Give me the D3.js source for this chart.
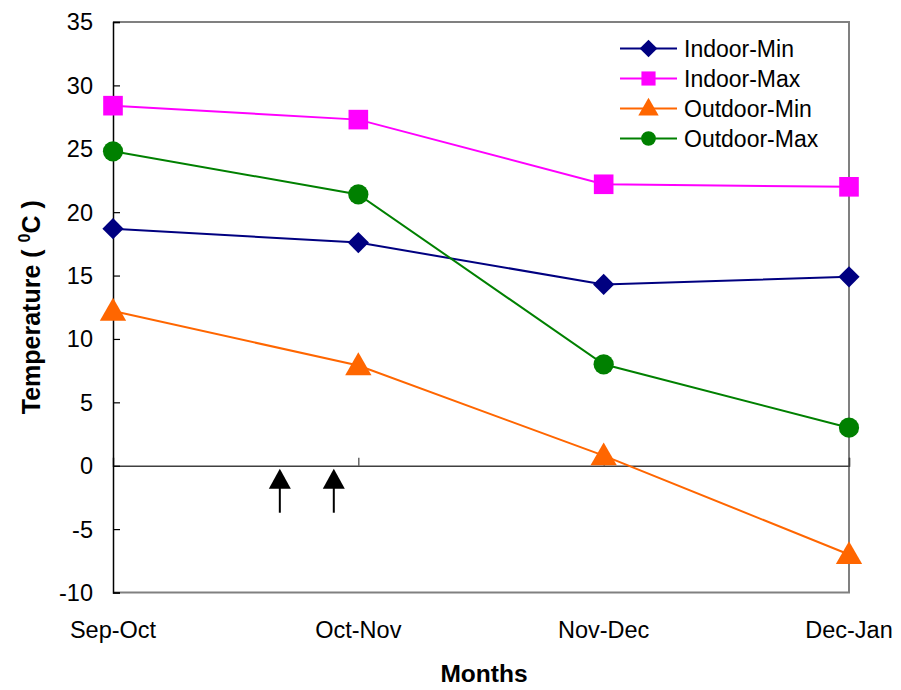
<!DOCTYPE html>
<html>
<head>
<meta charset="utf-8">
<script src="https://cdn.jsdelivr.net/npm/d3@7"></script>
<style>
  html, body { margin: 0; padding: 0; background: #fff; }
  svg { display: block; font-family: "Liberation Sans", Arial, sans-serif; }
</style>
</head>
<body>
<svg id="chart" width="901" height="690"></svg>
<script>
const categories = ["Sep-Oct", "Oct-Nov", "Nov-Dec", "Dec-Jan"];
const seriesNames = ["Indoor-Min", "Indoor-Max", "Outdoor-Min", "Outdoor-Max"];
const indoorMin = [18.7, 17.6, 14.3, 14.9];
const indoorMax = [28.4, 27.3, 22.2, 22.0];
const outdoorMin = [12.2, 7.9, 0.8, -7.0];
const outdoorMax = [24.8, 21.4, 8.0, 3.0];
const yTicks = [-10, -5, 0, 5, 10, 15, 20, 25, 30, 35];
const arrowPositions = [0.68, 0.9]; // in category-index units

const seriesValues = [indoorMin, indoorMax, outdoorMin, outdoorMax];
const colors = ["#000080", "#FF00FF", "#FF6600", "#008000"];
const shapes = ["diamond", "square", "triangle", "circle"];

(function () {
const svg = d3.select("#chart");
const pLeft = 113, pRight = 849, pTop = 22, pBottom = 592.5;

const x = d3.scalePoint().domain(categories).range([pLeft, pRight]).padding(0);
const xIdx = d3.scaleLinear().domain([0, categories.length - 1]).range([pLeft, pRight]);
const y = d3.scaleLinear().domain([-10, 35]).range([pBottom, pTop]);

// plot border (gray)
svg.append("path")
  .attr("d", `M${pLeft},${pTop}H${pRight}V${pBottom}H${pLeft}`)
  .attr("fill", "none").attr("stroke", "#808080").attr("stroke-width", 2);

// zero line axis with inward ticks
const xAxis = d3.axisTop(x).tickSize(8).tickFormat("");
const gx = svg.append("g").attr("transform", `translate(0,${y(0)})`).call(xAxis);
gx.select(".domain").attr("stroke", "#404040").attr("stroke-width", 1.5);
gx.selectAll(".tick line").attr("stroke", "#404040").attr("stroke-width", 1.2)
  .filter(d => d === categories[0]).remove();

// x labels
svg.append("g").selectAll("text").data(categories).join("text")
  .attr("x", d => x(d)).attr("y", 638)
  .attr("text-anchor", "middle").attr("font-size", 23.5).attr("fill", "#000")
  .text(d => d);

// y axis
const yAxis = d3.axisRight(y).tickValues(yTicks).tickSize(7).tickFormat("");
const gy = svg.append("g").attr("transform", `translate(${pLeft},0)`).call(yAxis);
gy.select(".domain").attr("stroke", "#000").attr("stroke-width", 1.5);
gy.selectAll(".tick line").attr("stroke", "#000").attr("stroke-width", 1.2);

svg.append("g").selectAll("text").data(yTicks).join("text")
  .attr("x", 93).attr("y", d => y(d)).attr("dy", "0.36em")
  .attr("text-anchor", "end").attr("font-size", 23.5).attr("fill", "#000")
  .text(d => d);

// axis titles
svg.append("text").attr("x", 484).attr("y", 682)
  .attr("text-anchor", "middle").attr("font-size", 24.5).attr("font-weight", "bold")
  .text("Months");

const yt = svg.append("text")
  .attr("transform", `translate(40,${(pTop + pBottom) / 2}) rotate(-90)`)
  .attr("text-anchor", "middle").attr("font-size", 25).attr("font-weight", "bold");
yt.append("tspan").text("Temperature ( ");
yt.append("tspan").attr("font-size", 16).attr("dy", -10).text("0");
yt.append("tspan").attr("dy", 10).text("C )");

// symbol helper
function symbolPath(shape, size) {
  const map = { diamond: d3.symbolSquare, square: d3.symbolSquare, triangle: d3.symbolTriangle, circle: d3.symbolCircle };
  return d3.symbol().type(map[shape]).size(size)();
}
const rot = shape => shape === "diamond" ? " rotate(45)" : "";
const markerSize = { diamond: 225, square: 385, triangle: 300, circle: 320 };
const legendSize = { diamond: 155, square: 200, triangle: 180, circle: 170 };

const line = d3.line().x((d, i) => x(categories[i])).y(d => y(d));

seriesValues.forEach((vals, s) => {
  svg.append("path").datum(vals)
    .attr("d", line).attr("fill", "none")
    .attr("stroke", colors[s]).attr("stroke-width", 2);
});
seriesValues.forEach((vals, s) => {
  svg.append("g").selectAll("path").data(vals).join("path")
    .attr("transform", (d, i) => `translate(${x(categories[i])},${y(d) + (shapes[s] === "triangle" ? 2 : 0)})` + rot(shapes[s]))
    .attr("d", symbolPath(shapes[s], markerSize[shapes[s]]))
    .attr("fill", colors[s]);
});

// arrows
arrowPositions.forEach(p => {
  const ax = xIdx(p);
  const g = svg.append("g");
  g.append("line").attr("x1", ax).attr("x2", ax).attr("y1", y(0) + 20).attr("y2", y(0) + 47)
    .attr("stroke", "#000").attr("stroke-width", 2);
  g.append("path")
    .attr("d", `M${ax},${y(0) + 3}L${ax + 11},${y(0) + 23}L${ax - 11},${y(0) + 23}Z`)
    .attr("fill", "#000");
});

// legend
const lg = svg.append("g");
seriesNames.forEach((name, s) => {
  const ly = 48.5 + s * 30;
  lg.append("line").attr("x1", 620).attr("x2", 677).attr("y1", ly).attr("y2", ly)
    .attr("stroke", colors[s]).attr("stroke-width", 2);
  lg.append("path").attr("transform", `translate(648.5,${ly + (shapes[s] === "triangle" ? 1 : 0)})` + rot(shapes[s]))
    .attr("d", symbolPath(shapes[s], legendSize[shapes[s]])).attr("fill", colors[s]);
  lg.append("text").attr("x", 684).attr("y", ly).attr("dy", "0.36em")
    .attr("font-size", 23).attr("fill", "#000").text(name);
});
})();
</script>
</body>
</html>
